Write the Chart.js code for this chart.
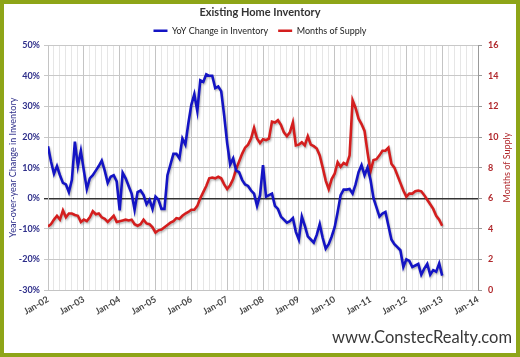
<!DOCTYPE html>
<html><head><meta charset="utf-8">
<script src="https://cdn.jsdelivr.net/npm/chart.js@4.4.0/dist/chart.umd.min.js"></script>
<style>
html,body{margin:0;padding:0;background:#fff;}
#wrap{position:relative;width:520px;height:357px;overflow:hidden;background:#fff;}
#c{position:absolute;left:0;top:0;}
#frame{position:absolute;left:0;top:0;width:520px;height:357px;box-sizing:border-box;border:4px solid #8ea518;pointer-events:none;}
#wm{position:absolute;left:332px;top:327px;font-family:Lato,sans-serif;font-size:16.5px;color:#383838;white-space:nowrap;}
</style></head>
<body><div id="wrap"><canvas id="c" width="520" height="357"></canvas><div id="wm">www.ConstecRealty.com</div><div id="frame"></div></div>
<script>
const chartTitle = 'Existing Home Inventory';
const seriesNames = ['YoY Change in Inventory', 'Months of Supply'];
const leftAxisTitle = 'Year-over-year Change in Inventory';
const rightAxisTitle = 'Months of Supply';
const yearTickLabels = ['Jan-02','Jan-03','Jan-04','Jan-05','Jan-06','Jan-07','Jan-08','Jan-09','Jan-10','Jan-11','Jan-12','Jan-13','Jan-14'];
// monthly values Jan-02 .. Jan-13
const yoyChangePct = [
 17.0, 12.0, 8.0, 10.5, 7.5, 5.0, 4.5, 2.0, 6.0, 18.5, 10.5, 15.5,
 9.0, 3.0, 6.5, 7.5, 9.0, 10.5, 12.3, 9.0, 5.0, 7.0, 7.5, 5.5,
 -4.0, 8.3, 6.5, 4.0, 1.5, -3.8, 2.0, 2.5, 1.0, -2.0, -0.5, -3.5,
 0.5, -0.5, -3.5, -3.5, 7.5, 11.0, 14.5, 14.5, 13.0, 19.5, 17.5, 24.5,
 30.5, 34.0, 28.5, 38.5, 38.0, 40.5, 40.0, 40.0, 36.0, 36.5, 35.0, 27.0,
 18.0, 11.0, 13.0, 9.0, 8.5, 6.0, 4.5, 4.0, 2.5, 1.5, -2.5, 1.0,
 10.8, 0.5, 1.0, 1.5, -2.5, -3.5, -6.0, -7.0, -8.0, -7.5, -6.5, -11.0,
 -13.5, -6.0, -9.0, -12.5, -13.5, -14.5, -12.0, -8.5, -13.0, -16.5, -15.0, -12.5,
 -9.5, -4.5, 1.0, 2.8, 2.8, 3.0, 1.5, 4.5, 8.5, 10.8, 7.5, 10.0,
 6.0, 0.0, -3.0, -6.0, -5.0, -4.5, -9.0, -13.5, -15.0, -16.0, -17.0, -22.5,
 -20.0, -20.5, -22.5, -22.0, -21.5, -25.0, -23.0, -21.5, -25.0, -23.5, -24.0, -21.3,
 -25.3
];
const monthsOfSupply = [
 4.15, 4.3, 4.6, 4.85, 4.6, 5.2, 4.75, 5.0, 5.0, 4.9, 4.85, 4.45,
 4.6, 4.5, 4.75, 5.15, 4.95, 5.0, 4.75, 4.65, 4.45, 4.65, 4.85, 4.45,
 4.5, 4.55, 4.6, 4.55, 4.6, 4.3, 4.2, 4.3, 4.6, 4.35, 4.3, 4.1,
 3.75, 3.9, 3.95, 4.1, 4.25, 4.4, 4.5, 4.7, 4.65, 4.85, 5.0, 5.1,
 5.25, 5.25, 5.5, 6.0, 6.4, 6.8, 7.3, 7.35, 7.3, 7.4, 7.3, 6.9,
 6.6, 6.85, 7.25, 7.9, 8.4, 8.9, 9.3, 9.5, 9.9, 10.6, 9.9, 9.6,
 9.85, 9.8, 9.9, 11.0, 10.95, 11.1, 10.8, 10.3, 10.05, 10.3, 10.95, 9.45,
 9.5, 9.65, 9.45, 10.05, 9.5, 9.4, 9.25, 8.8, 8.0, 7.15, 6.6, 7.25,
 7.6, 8.35, 8.05, 8.3, 8.2, 8.8, 12.4, 11.9, 11.2, 10.85, 10.4, 9.0,
 7.75, 8.5, 8.55, 8.8, 9.1, 9.1, 9.3, 8.25, 8.0, 7.5, 7.0, 6.5,
 6.1, 6.3, 6.3, 6.45, 6.5, 6.45, 6.2, 5.9, 5.6, 5.3, 4.85, 4.6,
 4.2
];
const leftTickRange = [-30, 50, 10];
const rightTickRange = [0, 16, 2];

const BLUE = '#1414c4', RED = '#d41e1e';
const LEFT_COL = '#2e2e8a', RIGHT_COL = '#b0282c';
const FONT = 'Lato, "Open Sans", sans-serif';

const shadowPlugin = {
  id: 'lineShadow',
  beforeDatasetDraw(chart) { const c = chart.ctx; c.save(); c.shadowColor = 'rgba(0,0,0,0.28)'; c.shadowBlur = 2; c.shadowOffsetX = 1; c.shadowOffsetY = 1.5; },
  afterDatasetDraw(chart) { chart.ctx.restore(); }
};
const rightTitlePlugin = {
  id: 'rightTitle',
  afterDraw(chart) {
    const c = chart.ctx, a = chart.chartArea;
    c.save();
    c.translate(507, (a.top + a.bottom) / 2);
    c.rotate(-Math.PI / 2);
    c.font = '9px ' + FONT;
    c.fillStyle = RIGHT_COL;
    c.textAlign = 'center'; c.textBaseline = 'middle';
    c.fillText(rightAxisTitle, 0, 0);
    c.restore();
  }
};

new Chart(document.getElementById('c'), {
  type: 'line',
  data: {
    datasets: [
      { label: seriesNames[0], data: yoyChangePct.map((v, i) => ({x: i, y: v})), yAxisID: 'y',
        borderColor: BLUE, backgroundColor: BLUE, borderWidth: 2.6, pointRadius: 0, pointStyle: 'line', tension: 0, fill: false },
      { label: seriesNames[1], data: monthsOfSupply.map((v, i) => ({x: i, y: v})), yAxisID: 'y1',
        borderColor: RED, backgroundColor: RED, borderWidth: 2.6, pointRadius: 0, pointStyle: 'line', tension: 0, fill: false }
    ]
  },
  options: {
    responsive: false, animation: false, devicePixelRatio: 1,
    layout: { padding: 0 },
    plugins: {
      title: { display: true, text: chartTitle, color: '#333', font: { family: FONT, size: 11, weight: 'bold' }, padding: { top: 6, bottom: -3 } },
      legend: { display: true, position: 'top',
        labels: { color: '#222', font: { family: FONT, size: 9, weight: 'normal' }, usePointStyle: true, pointStyleWidth: 14, padding: 10 } },
      tooltip: { enabled: false }
    },
    scales: {
      x: { type: 'linear', position: 'bottom', min: 0, max: 144,
        afterFit: s => { s.height = 67; },
        ticks: { stepSize: 2, autoSkip: false, maxRotation: 30, minRotation: 30, padding: 4,
          color: '#444', font: { family: FONT, size: 9, weight: 'bold' },
          callback: v => (v % 12 === 0 ? yearTickLabels[v / 12] : '') },
        grid: { drawTicks: false, color: c => (c.tick && c.tick.value % 12 === 0 ? '#c4c4c4' : '#e6e6e6') },
        border: { display: true, color: '#c4c4c4' } },
      y: { position: 'left', min: leftTickRange[0], max: leftTickRange[1],
        afterFit: s => { s.width = 48; },
        ticks: { stepSize: leftTickRange[2], padding: 4, color: LEFT_COL, font: { family: FONT, size: 9, weight: 'bold' }, callback: v => v + '%' },
        grid: { tickLength: 4, color: c => (c.tick && c.tick.value === 0 ? '#333' : '#c8c8c8'), lineWidth: c => (c.tick && c.tick.value === 0 ? 1.4 : 1) },
        border: { display: true, color: '#c4c4c4' },
        title: { display: true, text: leftAxisTitle, color: LEFT_COL, font: { family: FONT, size: 9 }, padding: { top: 7.5, bottom: 0 } } },
      y1: { position: 'right', min: rightTickRange[0], max: rightTickRange[1],
        afterFit: s => { s.width = 42; },
        ticks: { stepSize: rightTickRange[2], padding: 6, color: RIGHT_COL, font: { family: FONT, size: 9, weight: 'bold' } },
        grid: { drawOnChartArea: false, tickLength: 4, color: '#999' },
        border: { display: true, color: '#9a9a9a' } }
    }
  },
  plugins: [shadowPlugin, rightTitlePlugin]
});
</script>
</body></html>
